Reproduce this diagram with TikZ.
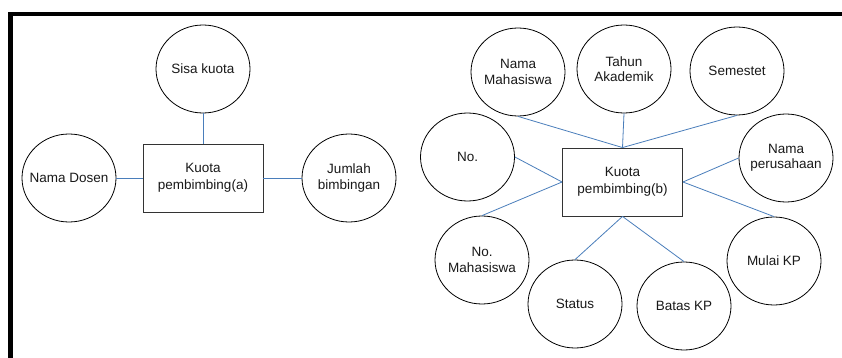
\documentclass[tikz,border=0pt]{standalone}
\usepackage{fontspec}
\setmainfont{Liberation Sans}
\usetikzlibrary{shapes.geometric}
\definecolor{linkblue}{HTML}{4A7EBB}
\begin{document}
\begin{tikzpicture}[x=1pt,y=-1pt,
  attr/.style={draw=black, line width=0.8pt, ellipse, minimum width=94pt, minimum height=88pt, inner sep=0pt,
    label={[align=center, inner sep=0pt, text=black!90, font=\fontsize{13.5}{15.5}\selectfont]center:#1}},
  entity/.style={draw=black!80, line width=0.9pt, rectangle, minimum width=120pt, minimum height=68pt, inner sep=0pt, align=center, text=black!90, font=\fontsize{13.5}{16.5}\selectfont},
  link/.style={draw=linkblue, line width=0.8pt}]
\useasboundingbox (0,0) rectangle (842,358);
\fill[white] (0,0) rectangle (842,358);
\draw[line width=4.5pt, line join=miter] (10.5,360) -- (10.5,13.8) -- (845,13.8);

% left diagram
\node[entity] (ka) at (203,178) {Kuota\\pembimbing(a)};
\node[attr={Sisa kuota}] (sisa) at (203,69) {};
\node[attr={Nama Dosen}] (dosen) at (69,178) {};
\node[attr={Jumlah\\bimbingan}] (jumlah) at (349,178) {};
\draw[link] (sisa.south) -- (ka.north);
\draw[link] (dosen.east) -- (ka.west);
\draw[link] (ka.east) -- (jumlah.west);

% right diagram
\node[entity] (kb) at (622.5,182) {Kuota\\pembimbing(b)};
\node[attr={Nama\\Mahasiswa}] (nmhs) at (518,72) {};
\node[attr={Tahun\\Akademik}] (tahun) at (624,69) {};
\node[attr={Semestet}] (sem) at (737,71) {};
\node[attr={No.}] (no) at (467.5,157) {};
\node[attr={Nama\\perusahaan}] (npers) at (786,158) {};
\node[attr={Mulai KP}] (mulai) at (774,261) {};
\node[attr={Batas KP}] (batas) at (684,306) {};
\node[attr={Status}] (status) at (575,304) {};
\node[attr={No.\\Mahasiswa}] (nomhs) at (482,260) {};

\draw[link] (nmhs.south) -- (kb.north);
\draw[link] (tahun.south) -- (kb.north);
\draw[link] (sem.south) -- (kb.north);
\draw[link] (no.east) -- (kb.west);
\draw[link] (nomhs.north) -- (kb.west);
\draw[link] (status.north) -- (kb.south);
\draw[link] (batas.north) -- (kb.south);
\draw[link] (npers.west) -- (kb.east);
\draw[link] (mulai.north) -- (kb.east);
\end{tikzpicture}
\end{document}
